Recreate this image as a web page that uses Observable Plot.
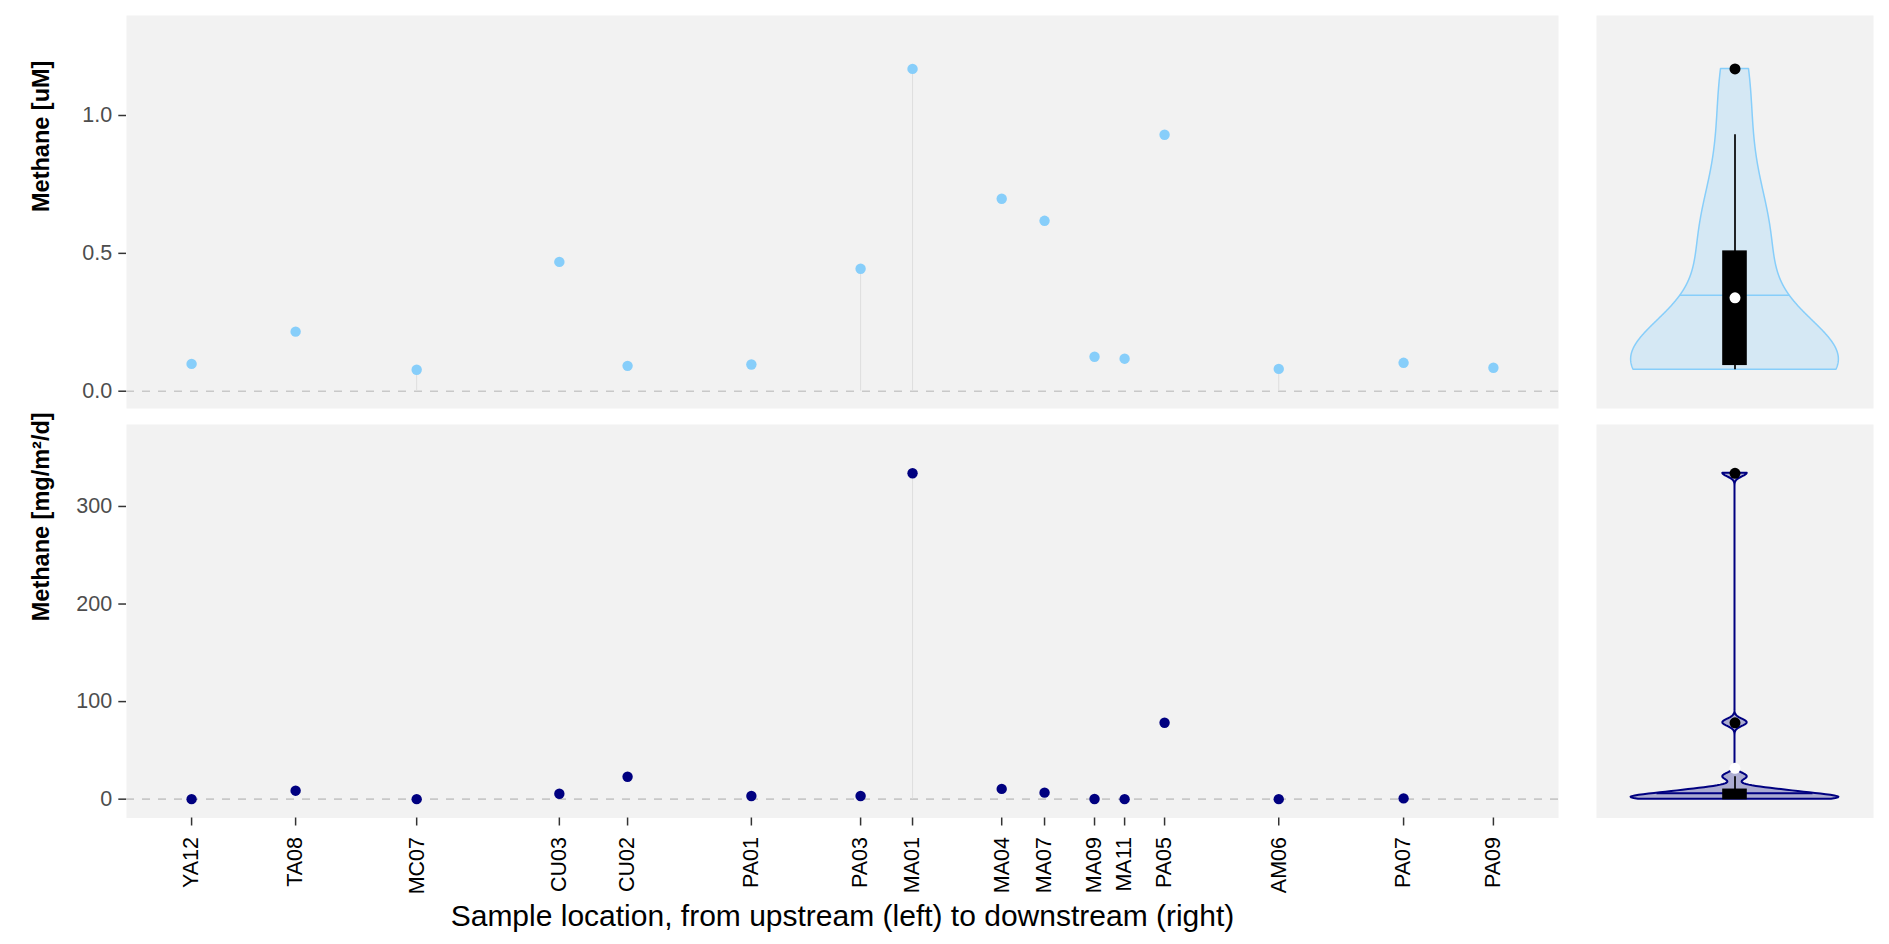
<!DOCTYPE html>
<html><head><meta charset="utf-8">
<script src="https://cdn.jsdelivr.net/npm/d3@7"></script>
<script src="https://cdn.jsdelivr.net/npm/@observablehq/plot@0.6"></script>
<style>
html,body{margin:0;padding:0;background:#fff;}
#chart{position:relative;width:1889px;height:944px;font-family:"Liberation Sans",Arial,sans-serif;}
#chart svg{position:absolute;overflow:visible;max-width:none;}
</style></head><body><div id="chart"></div>
<script>
// ---------- data ----------
const sites = ["YA12","TA08","MC07","CU03","CU02","PA01","PA03","MA01","MA04","MA07","MA09","MA11","PA05","AM06","PA07","PA09"];
// relative position along the river (upstream 0 -> downstream 100)
const position = [0, 7.99, 17.29, 28.25, 33.49, 43.0, 51.39, 55.38, 62.23, 65.52, 69.36, 71.67, 74.74, 83.51, 93.10, 100];
const methaneUM = [0.099, 0.216, 0.078, 0.469, 0.092, 0.097, 0.444, 1.169, 0.698, 0.618, 0.125, 0.118, 0.930, 0.081, 0.103, 0.085];
const methaneFlux = [0, 8.7, 0, 5.6, 23, 3.3, 3.3, 334, 10.5, 6.7, 0.2, 0, 78.3, 0, 0.8, null];
// sites drawn with a stem from zero
const stemSites = ["MC07", "PA03", "MA01", "AM06"];
const yTicksTop = [0, 0.5, 1.0];
const yTicksBottom = [0, 100, 200, 300];
const yTitleTop = "Methane [uM]";
const yTitleBottom = "Methane [mg/m²/d]";
const xTitle = "Sample location, from upstream (left) to downstream (right)";

// ---------- derived ----------
const rows = sites.map((s, i) => ({site: s, pos: position[i], conc: methaneUM[i], flux: methaneFlux[i]}));
const siteByPos = new Map(rows.map(d => [d.pos, d.site]));

function violinStats(values) {
  const v = values.filter(d => d != null).sort(d3.ascending);
  const n = v.length;
  const q1 = d3.quantile(v, 0.25), q3 = d3.quantile(v, 0.75), med = d3.quantile(v, 0.5);
  const iqr = q3 - q1;
  const bw = 0.9 * Math.min(d3.deviation(v), iqr / 1.34) * Math.pow(n, -0.2);
  const lo = v[0], hi = v[n - 1], m = 512;
  const grid = d3.range(m).map(i => lo + (hi - lo) * i / (m - 1));
  const dens = grid.map(y => d3.sum(v, x => Math.exp(-0.5 * ((y - x) / bw) ** 2)) / (n * bw * Math.sqrt(2 * Math.PI)));
  const maxD = d3.max(dens);
  const half = dens.map(d => 0.45 * d / maxD);
  const curve = grid.map((y, i) => ({y, x1: 1 - half[i], x2: 1 + half[i]}));
  const tot = d3.sum(dens); let c = 0;
  const cdf = dens.map(d => (c += d) / tot);
  const j = cdf.findIndex(p => p >= 0.5);
  const t = j > 0 ? (0.5 - cdf[j - 1]) / (cdf[j] - cdf[j - 1]) : 0;
  const ym = j > 0 ? grid[j - 1] + t * (grid[j] - grid[j - 1]) : grid[0];
  const hm = j > 0 ? half[j - 1] + t * (half[j] - half[j - 1]) : half[0];
  const upFence = q3 + 1.5 * iqr, loFence = q1 - 1.5 * iqr;
  const whiskHi = d3.max(v.filter(x => x <= upFence));
  const whiskLo = d3.min(v.filter(x => x >= loFence));
  const outliers = v.filter(x => x > upFence || x < loFence).map(y => ({y}));
  return {curve, qline: {y: ym, x1: 1 - hm, x2: 1 + hm}, box: {q1, q3, med, whiskLo, whiskHi}, outliers, mean: [{y: d3.mean(v)}]};
}
const vTop = violinStats(methaneUM);
const vBot = violinStats(methaneFlux);

const font = "Liberation Sans, Arial, sans-serif";
const topY = {domain: [-0.0627, 1.3627], label: null};
const botY = {domain: [-19.3, 384], label: null};
const tickStyle = {tickSize: 7.7, tickPadding: 6.6, fontSize: 21.5, fill: "#4d4d4d", stroke: "#333", strokeWidth: 1.5, label: null};

function scatter(field, yOpts, ticks, fmt, title, color, opts) {
  const present = rows.filter(d => d[field] != null);
  return Plot.plot({
    ...opts,
    style: {fontFamily: font, background: "transparent", overflow: "visible"},
    x: {domain: [-5, 105], axis: null, label: null},
    y: yOpts,
    marks: [
      Plot.frame({fill: "#f2f2f2"}),
      Plot.ruleY([0], {stroke: "#c8c8c8", strokeWidth: 1.6, strokeDasharray: "8,8"}),
      Plot.ruleX(present.filter(d => stemSites.includes(d.site)), {x: "pos", y1: 0, y2: field, stroke: "#dedede", strokeWidth: 1}),
      Plot.dot(present, {x: "pos", y: field, r: 5.2, fill: color}),
      Plot.axisY(ticks, {...tickStyle, tickFormat: fmt}),
      Plot.text([title], {frameAnchor: "left", dx: -85, rotate: -90, fontSize: 23.5, fontWeight: "bold", fill: "black", lineAnchor: "middle"}),
      ...(opts.extra || [])
    ]
  });
}

const p1 = scatter("conc", topY, yTicksTop, d3.format(".1f"), yTitleTop, "#87CEFA",
  {width: 1570, height: 420, marginLeft: 126, marginRight: 12, marginTop: 15, marginBottom: 12});
const p2 = scatter("flux", botY, yTicksBottom, d3.format("d"), yTitleBottom, "#000080",
  {width: 1570, height: 524, marginLeft: 126, marginRight: 12, marginTop: 4, marginBottom: 126.5,
   extra: [
     Plot.axisX(position, {tickFormat: d => siteByPos.get(d), tickRotate: -90, tickSize: 8, tickPadding: 11, fontSize: 21.5, fill: "black", stroke: "#333", strokeWidth: 1.5, label: null}),
     Plot.text([xTitle], {frameAnchor: "bottom", dy: 107.5, lineAnchor: "bottom", fontSize: 30, fill: "black"})
   ]});

function violin(st, yOpts, color, fillOpacity, strokeWidth, opts) {
  return Plot.plot({
    ...opts,
    style: {fontFamily: font, background: "transparent", overflow: "visible"},
    x: {domain: [0.4, 1.6], axis: null, label: null},
    y: {...yOpts, axis: null},
    marks: [
      Plot.frame({fill: "#f2f2f2"}),
      Plot.areaX(st.curve, {y: "y", x1: "x1", x2: "x2", fill: color, fillOpacity, stroke: color, strokeWidth, strokeLinejoin: "round"}),
      Plot.ruleY([st.qline], {y: "y", x1: "x1", x2: "x2", stroke: color, strokeWidth}),
      Plot.ruleX([st.box], {x: 1, y1: "whiskLo", y2: "whiskHi", stroke: "black", strokeWidth: 1.7}),
      Plot.rect([st.box], {x1: 0.95, x2: 1.05, y1: "q1", y2: "q3", fill: "black", stroke: "black", strokeWidth: 1.5}),
      Plot.dot(st.outliers, {x: 1, y: "y", r: 5.5, fill: "black"}),
      Plot.dot(st.mean, {x: 1, y: "y", r: 5.5, fill: "white"})
    ]
  });
}
const p3 = violin(vTop, topY, "#87CEFA", 0.27, 1.5,
  {width: 309, height: 420, marginLeft: 16, marginRight: 16, marginTop: 15, marginBottom: 12});
const p4 = violin(vBot, botY, "#000080", 0.29, 2,
  {width: 309, height: 524, marginLeft: 16, marginRight: 16, marginTop: 4, marginBottom: 126.5});

const chart = document.getElementById("chart");
[[p1, 0, 0], [p2, 0, 420], [p3, 1580, 0], [p4, 1580, 420]].forEach(([p, l, t]) => {
  p.style.left = l + "px"; p.style.top = t + "px";
  chart.appendChild(p);
});
</script></body></html>
